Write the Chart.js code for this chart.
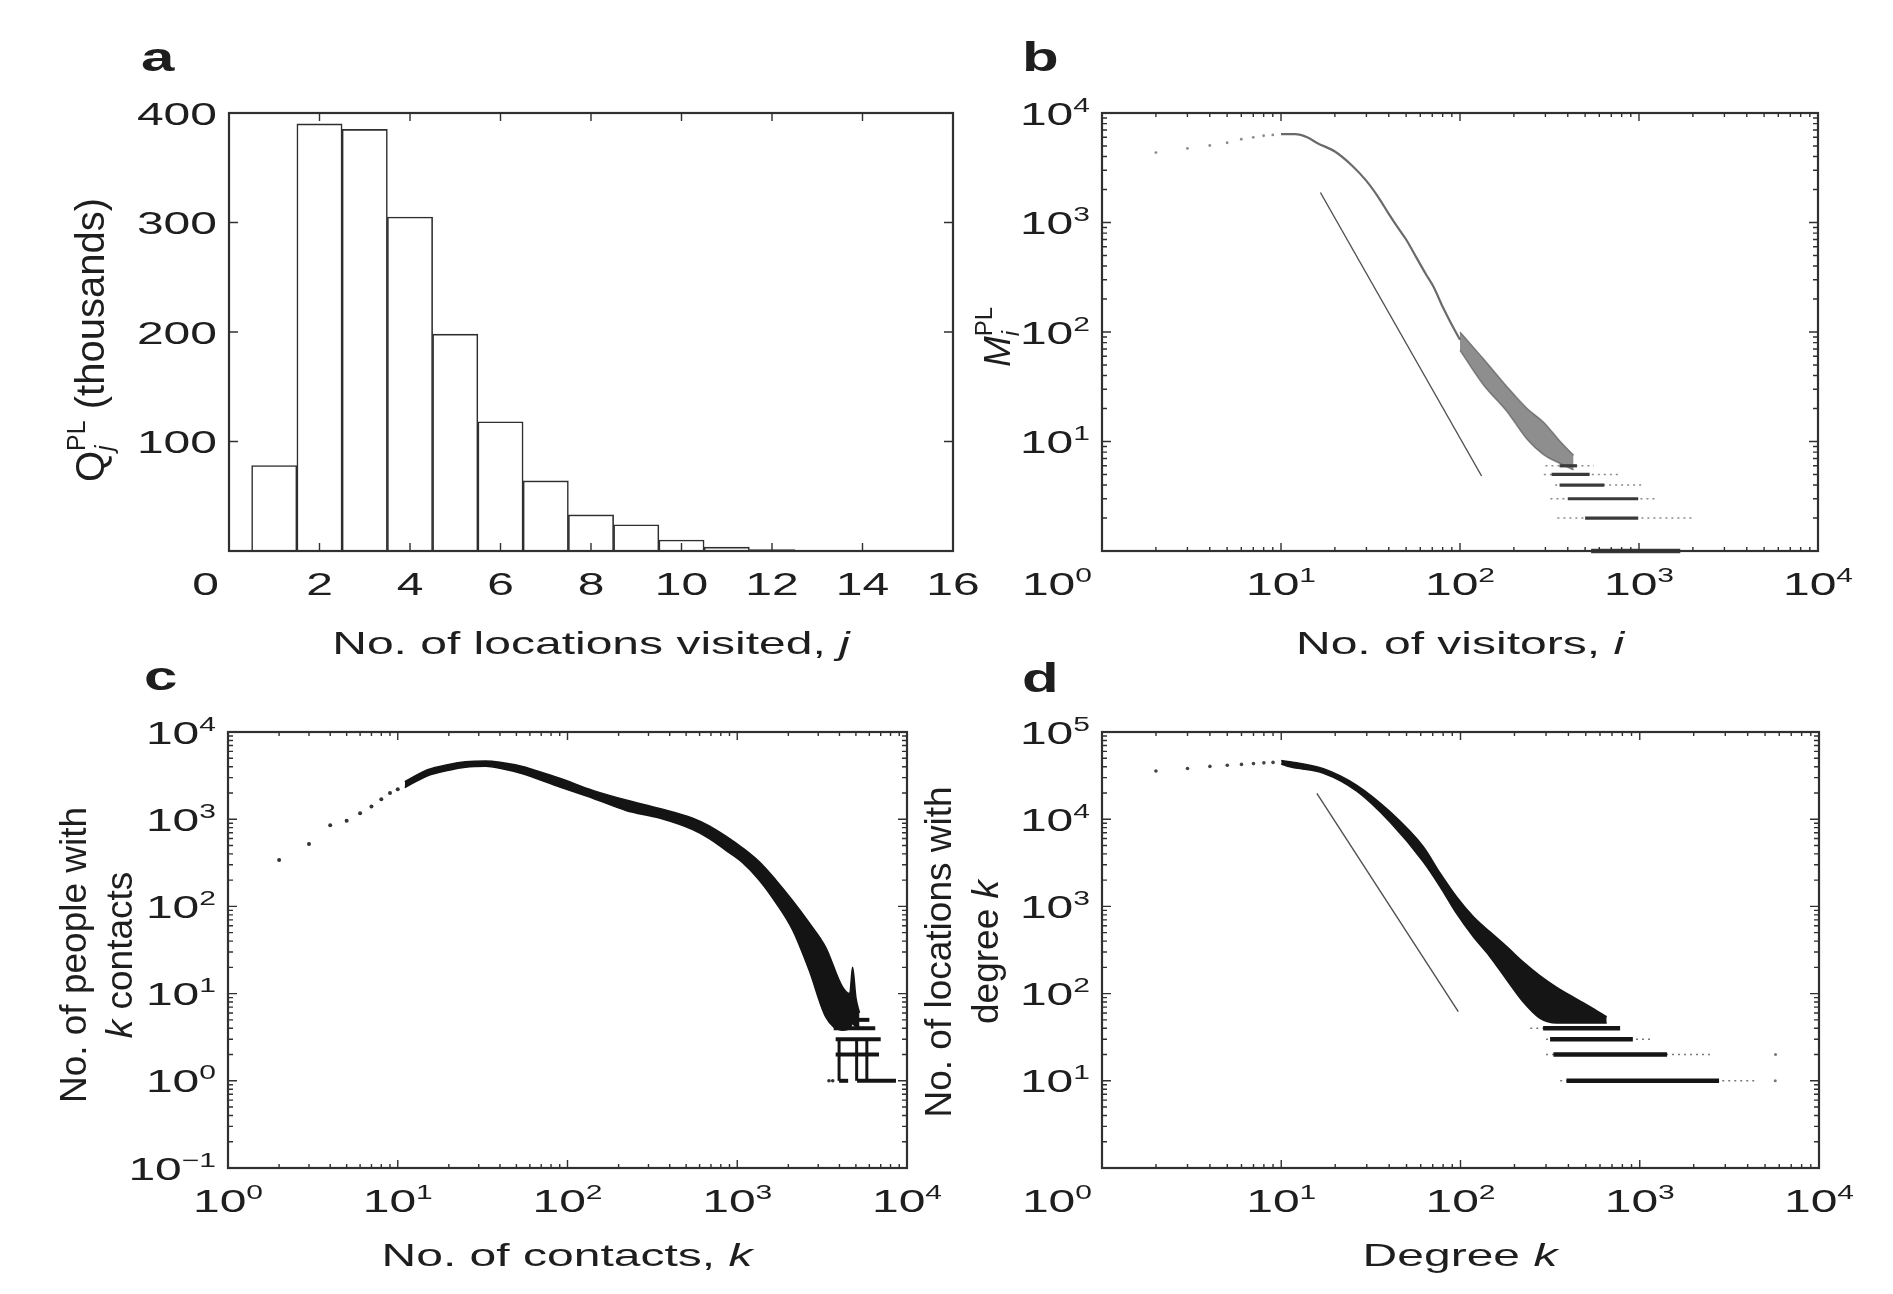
<!DOCTYPE html>
<html>
<head>
<meta charset="utf-8">
<script src="https://cdn.jsdelivr.net/npm/chart.js@4.4.1/dist/chart.umd.min.js"></script>
<style>
html,body{margin:0;padding:0;background:#fff;}
#wrap{position:relative;width:1893px;height:1294px;overflow:hidden;}
#wrap canvas{position:absolute;left:0;top:0;}
</style>
</head>
<body>
<div id="wrap">
<canvas id="ca" width="1893" height="1294"></canvas>
<canvas id="cb" width="1893" height="1294"></canvas>
<canvas id="cc" width="1893" height="1294"></canvas>
<canvas id="cd" width="1893" height="1294"></canvas>
</div>
<script>
// ---------------- DATA ----------------
// Panel a: histogram
const aJ = [1,2,3,4,5,6,7,8,9,10,11,12,13];
const aCounts = [78,390,385,305,198,118,64,33,24,10,3.5,1.2,0.6];
const aXTicks = [0,2,4,6,8,10,12,14,16];
const aXTickLabels = ['0','2','4','6','8','10','12','14','16'];
const aYTicks = [100,200,300,400];
const aYTickLabels = ['100','200','300','400'];

// Panel b
const bSparseX = [2,3,4,5,6,7,8,9];
const bSparseY = [4350,4750,5050,5350,5760,6000,6200,6300];
const bCurveX = [10,12,14,16,20,25,30,35,40,46,50,57,65,71,80,88,100];
const bCurveY = [6420,6400,6000,5300,4450,3300,2400,1700,1200,850,700,480,330,260,170,125,85];
const bCloudX = [100,135,182,237,293,363,431];
const bCloudHi = [100,57,32,20,15,10,7.5];
const bCloudLo = [68,33,19,10.5,7.6,6.3,5.5];
const bRowY = [6,5,4,3,2,1];
const bRowFrom = [300,294,340,320,350,470];
const bRowTo = [560,768,1040,1230,2065,2960];
const bRowDenseFrom = [360,325,360,400,500,540];
const bRowDenseTo = [450,530,640,990,990,1700];
const bRefX = [16.6,132];
const bRefY = [1880,4.84];
const bXTicks = [1,10,100,1000,10000];
const bXTickLabels = ['10^0','10^1','10^2','10^3','10^4'];
const bYTicks = [10,100,1000,10000];
const bYTickLabels = ['10^1','10^2','10^3','10^4'];

// Panel c
const cSparseK = [2,3,4,5,6,7,8,9,10];
const cSparseN = [340,520,850,960,1170,1400,1690,2000,2210];
const cBandK  = [11,15,20,25,33,40,55,70,90,141,221,348,546,684,857,1072,1349,1690,2115,2650,3320,4160,4600,4780,5000,5250];
const cBandHi = [2700,3700,4250,4550,4650,4500,4000,3450,2950,2140,1660,1330,1030,840,640,470,324,200,117,65,34,12,10,20,9,6];
const cBandLo = [2300,3150,3650,3950,4050,3850,3300,2800,2340,1740,1260,1030,760,600,440,320,200,110,54,18.6,5.4,3.8,4,4.5,4.2,4.2];
const cRowN = [5,4,3,2,1,1];
const cRowFrom = [4000,3700,3800,3800,3980,5080];
const cRowTo = [6000,6500,7000,6840,4500,8610];
const cStreakK = [3980,5050,5800];
const cStreakLo = [1,1,1];
const cStreakHi = [3,3,3];
const cDotsK = [3470,3650];
const cDotsN = [1,1];
const cXTicks = [1,10,100,1000,10000];
const cXTickLabels = ['10^0','10^1','10^2','10^3','10^4'];
const cYTicks = [0.1,1,10,100,1000,10000];
const cYTickLabels = ['10^-1','10^0','10^1','10^2','10^3','10^4'];

// Panel d
const dSparseX = [2,3,4,5,6,7,8,9];
const dSparseY = [35700,38100,40300,41600,42500,43400,44300,44800];
const dBandX  = [10,11.2,17.2,26.4,40.4,62,77,95,118,146,181,224,278,344,426,527,654];
const dBandHi = [47000,45700,38000,24500,12200,4840,2400,1290,760,510,346,230,160,118,91,71,54];
const dBandLo = [43000,39800,33700,21000,9300,3250,1680,830,447,265,144,80,52,46,46,46,46];
const dRowY = [40,30,20,10];
const dRowFrom = [245,300,300,360];
const dRowTo = [777,1180,2470,4560];
const dRowDenseFrom = [289,316,330,390];
const dRowDenseTo = [777,915,1420,2770];
const dDotsX = [5720,5700];
const dDotsY = [20,10];
const dRefX = [15.8,97.2];
const dRefY = [19800,62];
const dXTicks = [1,10,100,1000,10000];
const dXTickLabels = ['10^0','10^1','10^2','10^3','10^4'];
const dYTicks = [10,100,1000,10000,100000];
const dYTickLabels = ['10^1','10^2','10^3','10^4','10^5'];

// ---------------- STYLE / LAYOUT ----------------
const W = 1893, H = 1294;
const SX = 1.5;                       // horizontal stretch of the original figure's lettering
const FONT = '"Liberation Sans", Arial, Helvetica, sans-serif';
const TXT = '#1e1e1e';
const FRAME = '#303030';
const TICK_SIZE = 32, EXP_SIZE = 20, TITLE_SIZE = 32, ROT_SIZE = 37, LETTER_SIZE = 40;
const AREA = {
  a: {L: 229, R: 953, T: 113, B: 551},
  b: {L: 1102, R: 1818, T: 113, B: 551},
  c: {L: 228, R: 907, T: 732, B: 1168},
  d: {L: 1102, R: 1819, T: 732, B: 1168}
};

function fontStr(sg, base) {
  return (sg.b ? 'bold ' : '') + (sg.i ? 'italic ' : '') + (sg.s || base) + 'px ' + FONT;
}
function richWidth(ctx, segs, base) {
  let x = 0, prev = 0;
  segs.forEach(sg => {
    ctx.font = fontStr(sg, base);
    const w = ctx.measureText(sg.t).width;
    const st = sg.back ? prev : x;
    prev = st; x = Math.max(x, st + w);
  });
  return x;
}
function drawRich(ctx, segs, px, py, opt) {
  opt = opt || {};
  const base = opt.size || TICK_SIZE;
  ctx.save();
  ctx.translate(px, py);
  ctx.scale(opt.stretch || SX, 1);
  if (opt.rot) ctx.rotate(opt.rot);
  const w = richWidth(ctx, segs, base);
  let x0 = opt.align === 'center' ? -w / 2 : (opt.align === 'right' ? -w : 0);
  let x = x0, prev = x0;
  ctx.fillStyle = opt.color || TXT;
  ctx.textAlign = 'left';
  ctx.textBaseline = 'alphabetic';
  segs.forEach(sg => {
    ctx.font = fontStr(sg, base);
    const ww = ctx.measureText(sg.t).width;
    const st = sg.back ? prev : x;
    ctx.fillText(sg.t, st, sg.dy || 0);
    prev = st; x = Math.max(x, st + ww);
  });
  ctx.restore();
}
function labelSegs(s) {
  const k = s.indexOf('^');
  if (k < 0) return [{t: s}];
  return [{t: s.slice(0, k)}, {t: s.slice(k + 1).replace('-', '\u2212'), s: EXP_SIZE, dy: -13}];
}
function minorValues(scale) {
  const out = [];
  const e0 = Math.round(Math.log10(scale.min)), e1 = Math.round(Math.log10(scale.max));
  for (let e = e0; e < e1; e++) for (let m = 2; m < 10; m++) out.push(m * Math.pow(10, e));
  return out;
}

function decoPlugin(cfg) {
  return {
    id: 'deco' + cfg.key,
    afterDraw(chart) {
      const ctx = chart.ctx, a = chart.chartArea, xs = chart.scales.x, ys = chart.scales.y;
      ctx.save();
      ctx.strokeStyle = FRAME;
      ctx.lineWidth = 1.4;
      const vt = (v, len) => {
        const p = xs.getPixelForValue(v);
        ctx.beginPath();
        ctx.moveTo(p, a.bottom); ctx.lineTo(p, a.bottom - len);
        ctx.moveTo(p, a.top); ctx.lineTo(p, a.top + len);
        ctx.stroke();
      };
      const ht = (v, len) => {
        const p = ys.getPixelForValue(v);
        ctx.beginPath();
        ctx.moveTo(a.left, p); ctx.lineTo(a.left + len, p);
        ctx.moveTo(a.right, p); ctx.lineTo(a.right - len, p);
        ctx.stroke();
      };
      cfg.xTicks.forEach(v => vt(v, 8));
      cfg.yTicks.forEach(v => ht(v, 9));
      if (cfg.log) {
        minorValues(xs).forEach(v => vt(v, 4));
        minorValues(ys).forEach(v => ht(v, 5));
      }
      ctx.lineWidth = 2.2;
      ctx.strokeRect(a.left, a.top, a.right - a.left, a.bottom - a.top);
      ctx.restore();

      // tick labels
      cfg.xTicks.forEach((v, i) => {
        const segs = labelSegs(cfg.xLabels[i]);
        const p = xs.getPixelForValue(v);
        if (i === 0 && cfg.firstOffset) drawRich(ctx, segs, a.left - 10, a.bottom + 44, {align: 'right'});
        else drawRich(ctx, segs, p, a.bottom + 44, {align: 'center'});
      });
      cfg.yTicks.forEach((v, i) => {
        const p = ys.getPixelForValue(v);
        drawRich(ctx, labelSegs(cfg.yLabels[i]), a.left - 12, p + 11.5, {align: 'right'});
      });
      // titles and letters
      cfg.texts.forEach(t => drawRich(ctx, t.segs, t.x, t.y, {
        align: t.align || 'center', rot: t.rot,
        size: t.size || (t.rot ? ROT_SIZE : TITLE_SIZE),
        stretch: t.rot ? 1 : SX
      }));
    }
  };
}

function baseOptions(area, xScale, yScale) {
  return {
    responsive: false,
    animation: false,
    devicePixelRatio: 1,
    events: [],
    layout: {padding: {left: area.L, top: area.T, right: W - area.R, bottom: H - area.B}},
    plugins: {legend: {display: false}, tooltip: {enabled: false}},
    scales: {
      x: Object.assign({display: false, offset: false}, xScale),
      y: Object.assign({display: false}, yScale)
    }
  };
}

const pts = (xs, ys) => xs.map((x, i) => ({x: x, y: ys[i]}));
const seg = (x0, x1, y) => [{x: x0, y: y}, {x: x1, y: y}];
function lineDS(data, color, width, extra) {
  return Object.assign({data: data, borderColor: color, borderWidth: width, pointRadius: 0,
    fill: false, tension: 0, clip: 8}, extra || {});
}
function envDS(data, color, fillNext) {
  return lineDS(data, color, 1.5, {
    cubicInterpolationMode: 'monotone',
    fill: fillNext ? '+1' : false,
    backgroundColor: color
  });
}
function dotDS(data, color, r) {
  return {data: data, showLine: false, pointRadius: r, pointBackgroundColor: color,
    pointBorderWidth: 0, borderColor: color, clip: 8};
}
function rowDatasets(ys, from, to, dFrom, dTo, light, dark, w) {
  const out = [];
  ys.forEach((y, i) => {
    if (dFrom) out.push(lineDS(seg(dFrom[i], dTo[i], y), dark, (y === 1 && dFrom) ? w + 1.5 : w));
    out.push(lineDS(seg(from[i], to[i], y), light, dFrom ? 1.6 : w, dFrom ? {borderDash: [2, 4]} : {}));
  });
  return out;
}
const R = -Math.PI / 2;

// ---------------- PANEL a ----------------
new Chart(document.getElementById('ca'), {
  type: 'bar',
  data: {datasets: [{
    data: pts(aJ, aCounts),
    backgroundColor: '#ffffff', borderColor: '#2e2e2e', borderWidth: 1.6,
    barPercentage: 1, categoryPercentage: 1, borderSkipped: 'bottom'
  }]},
  options: baseOptions(AREA.a, {type: 'linear', min: 0, max: 16}, {type: 'linear', min: 0, max: 400}),
  plugins: [decoPlugin({key: 'a', log: false, firstOffset: true,
    xTicks: aXTicks, xLabels: aXTickLabels, yTicks: aYTicks, yLabels: aYTickLabels,
    texts: [
      {segs: [{t: 'a', b: true}], x: 141, y: 71, align: 'left', size: LETTER_SIZE},
      {segs: [{t: 'No. of locations visited, '}, {t: 'j', i: true}], x: 591, y: 654},
      {segs: [{t: 'Q'}, {t: 'j', i: true, s: 25, dy: 9}, {t: 'PL', s: 25, dy: -19, back: true}, {t: ' (thousands)'}],
       x: 104, y: 340, rot: R, size: 40}
    ]})]
});

// ---------------- PANEL b ----------------
const bGrey = 'rgba(88,88,88,0.68)';
new Chart(document.getElementById('cb'), {
  type: 'line',
  data: {datasets: [
    lineDS(pts(bRefX, bRefY), '#505050', 1.4),
    ...rowDatasets(bRowY, bRowFrom, bRowTo, bRowDenseFrom, bRowDenseTo, '#8a8a8a', '#3a3a3a', 3.2),
    envDS(pts(bCloudX, bCloudHi), bGrey, true),
    envDS(pts(bCloudX, bCloudLo), bGrey, false),
    lineDS(pts(bCurveX, bCurveY), '#6a6a6a', 2.2, {cubicInterpolationMode: 'monotone'}),
    dotDS(pts(bSparseX, bSparseY), '#8c8c8c', 1.4)
  ]},
  options: baseOptions(AREA.b, {type: 'logarithmic', min: 1, max: 10000}, {type: 'logarithmic', min: 1, max: 10000}),
  plugins: [decoPlugin({key: 'b', log: true, firstOffset: true,
    xTicks: bXTicks, xLabels: bXTickLabels, yTicks: bYTicks, yLabels: bYTickLabels,
    texts: [
      {segs: [{t: 'b', b: true}], x: 1022, y: 71, align: 'left', size: LETTER_SIZE},
      {segs: [{t: 'No. of visitors, '}, {t: 'i', i: true}], x: 1460, y: 654},
      {segs: [{t: 'M', i: true}, {t: 'i', i: true, s: 24, dy: 9}, {t: 'PL', s: 24, dy: -18, back: true}],
       x: 1010, y: 337, rot: R}
    ]})]
});

// ---------------- PANEL c ----------------
const cBlack = '#141414';
const cStreaks = cStreakK.map((k, i) => lineDS([{x: k, y: cStreakLo[i]}, {x: k, y: cStreakHi[i]}], cBlack, 3));
new Chart(document.getElementById('cc'), {
  type: 'line',
  data: {datasets: [
    ...rowDatasets(cRowN, cRowFrom, cRowTo, null, null, cBlack, cBlack, 4),
    ...cStreaks,
    dotDS(pts(cDotsK, cDotsN), '#333', 1.8),
    envDS(pts(cBandK, cBandHi), cBlack, true),
    envDS(pts(cBandK, cBandLo), cBlack, false),
    dotDS(pts(cSparseK, cSparseN), '#333', 2)
  ]},
  options: baseOptions(AREA.c, {type: 'logarithmic', min: 1, max: 10000}, {type: 'logarithmic', min: 0.1, max: 10000}),
  plugins: [decoPlugin({key: 'c', log: true, firstOffset: false,
    xTicks: cXTicks, xLabels: cXTickLabels, yTicks: cYTicks, yLabels: cYTickLabels,
    texts: [
      {segs: [{t: 'c', b: true}], x: 144, y: 690, align: 'left', size: LETTER_SIZE},
      {segs: [{t: 'No. of contacts, '}, {t: 'k', i: true}], x: 567, y: 1266},
      {segs: [{t: 'No. of people with'}], x: 86, y: 955, rot: R},
      {segs: [{t: 'k', i: true}, {t: ' contacts'}], x: 132, y: 955, rot: R}
    ]})]
});

// ---------------- PANEL d ----------------
const dBlack = '#151515';
new Chart(document.getElementById('cd'), {
  type: 'line',
  data: {datasets: [
    lineDS(pts(dRefX, dRefY), '#505050', 1.4),
    ...rowDatasets(dRowY, dRowFrom, dRowTo, dRowDenseFrom, dRowDenseTo, '#7a7a7a', dBlack, 4.5),
    dotDS(pts(dDotsX, dDotsY), '#777', 1.5),
    envDS(pts(dBandX, dBandHi), dBlack, true),
    envDS(pts(dBandX, dBandLo), dBlack, false),
    dotDS(pts(dSparseX, dSparseY), '#444', 1.8)
  ]},
  options: baseOptions(AREA.d, {type: 'logarithmic', min: 1, max: 10000}, {type: 'logarithmic', min: 1, max: 100000}),
  plugins: [decoPlugin({key: 'd', log: true, firstOffset: true,
    xTicks: dXTicks, xLabels: dXTickLabels, yTicks: dYTicks, yLabels: dYTickLabels,
    texts: [
      {segs: [{t: 'd', b: true}], x: 1022, y: 692, align: 'left', size: LETTER_SIZE},
      {segs: [{t: 'Degree '}, {t: 'k', i: true}], x: 1460, y: 1266},
      {segs: [{t: 'No. of locations with'}], x: 951, y: 952, rot: R},
      {segs: [{t: 'degree '}, {t: 'k', i: true}], x: 998, y: 952, rot: R}
    ]})]
});
</script>
</body>
</html>
